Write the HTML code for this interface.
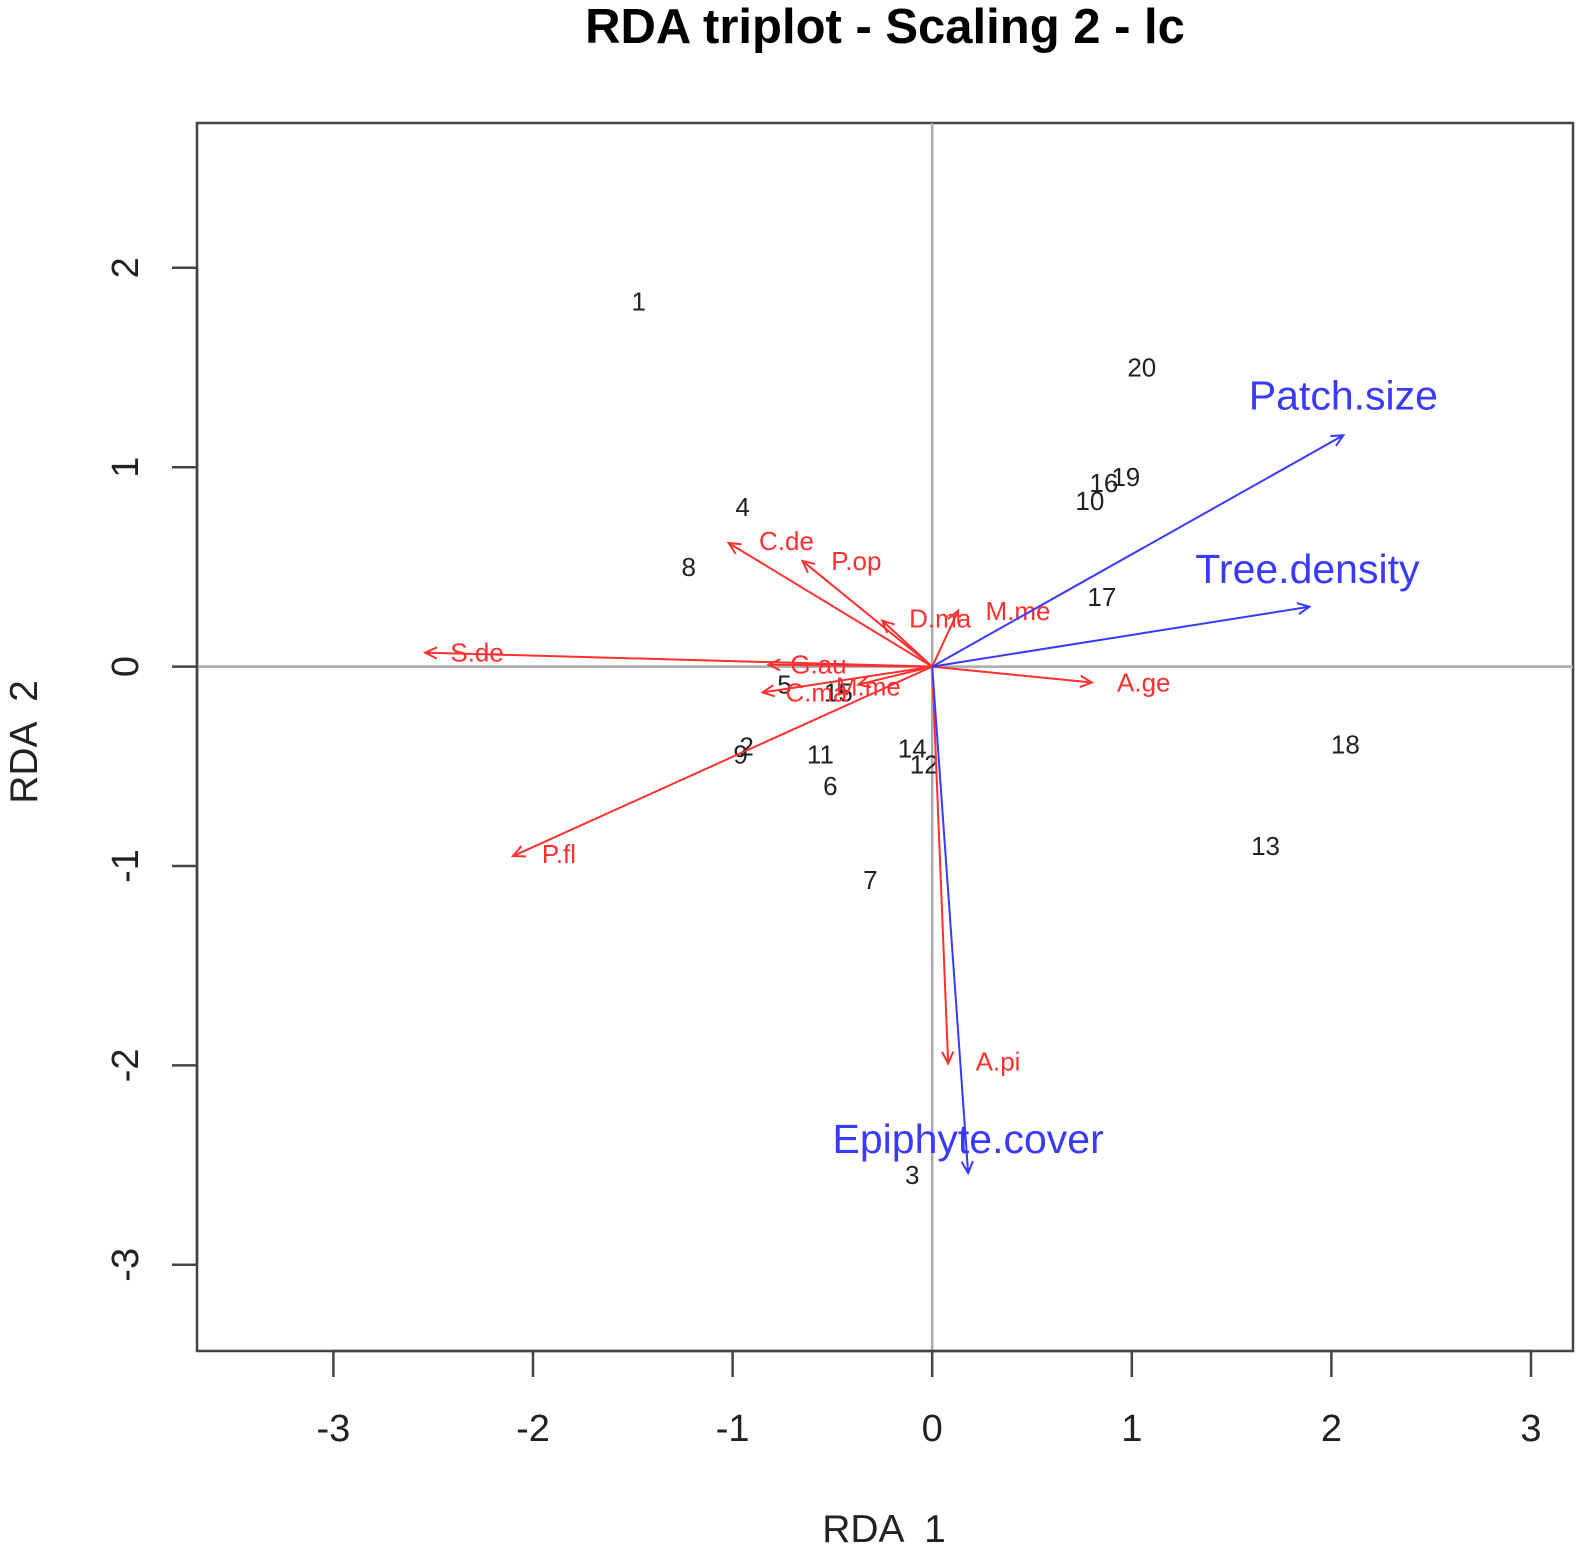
<!DOCTYPE html>
<html><head><meta charset="utf-8"><style>
html,body{margin:0;padding:0;background:#fff;}
svg{display:block;font-family:"Liberation Sans",Arial,sans-serif;}
</style></head><body>
<svg id="chart" width="1583" height="1549" viewBox="0 0 1583 1549" xmlns="http://www.w3.org/2000/svg">
<text x="885" y="43" text-anchor="middle" font-size="49" font-weight="bold" fill="#000">RDA triplot - Scaling 2 - lc</text>
<rect x="197" y="123" width="1376" height="1228" fill="none" stroke="#444" stroke-width="2.5"/>
<g id="zero"></g><g id="axes"></g><g id="sites"></g><g id="species"></g><g id="env"></g>
<text x="884" y="1542" text-anchor="middle" font-size="39" fill="#222" xml:space="preserve">RDA  1</text>
<text transform="translate(37,742) rotate(-90)" text-anchor="middle" font-size="39" fill="#222" xml:space="preserve">RDA  2</text>
</svg>
<script>
const xTicks=[-3,-2,-1,0,1,2,3];
const yTicks=[-3,-2,-1,0,1,2];
const siteLabels=["1","20","16","19","10","4","8","17","5","15","2","9","11","14","12","6","18","13","7","3"];
const siteX=[-1.47,1.05,0.86,0.97,0.79,-0.95,-1.22,0.85,-0.74,-0.47,-0.93,-0.96,-0.56,-0.10,-0.04,-0.51,2.07,1.67,-0.31,-0.10];
const siteY=[1.83,1.50,0.92,0.95,0.83,0.80,0.50,0.35,-0.09,-0.13,-0.40,-0.44,-0.44,-0.41,-0.49,-0.60,-0.39,-0.90,-1.07,-2.55];
const spNames=["S.de","G.au","C.ma","M.me","C.de","P.op","D.ma","M.me","A.ge","A.pi","P.fl"];
const spX=[-2.54,-0.82,-0.85,-0.37,-1.02,-0.65,-0.25,0.13,0.80,0.08,-2.10];
const spY=[0.07,0.01,-0.13,-0.09,0.62,0.53,0.23,0.28,-0.08,-1.99,-0.95];
const spLabX=[-2.28,-0.57,-0.58,-0.32,-0.73,-0.38,0.04,0.43,1.06,0.33,-1.87];
const spLabY=[0.07,0.01,-0.13,-0.10,0.63,0.53,0.24,0.28,-0.08,-1.98,-0.94];
const envNames=["Patch.size","Tree.density","Epiphyte.cover"];
const envX=[2.06,1.89,0.18];
const envY=[1.16,0.30,-2.54];
const envLabX=[2.06,1.88,0.18];
const envLabY=[1.36,0.49,-2.37];

const NS="http://www.w3.org/2000/svg";
const X0=932.2,XU=199.6,Y0=666.6,YU=199.4;
const sx=v=>X0+v*XU, sy=v=>Y0-v*YU;
function mk(tag,attrs,parent,txt){const e=document.createElementNS(NS,tag);for(const k in attrs)e.setAttribute(k,attrs[k]);if(txt!==undefined)e.textContent=txt;document.getElementById(parent).appendChild(e);return e;}

let z=mk('line',{x1:197,x2:1573,y1:sy(0),y2:sy(0),stroke:'#aaa','stroke-width':2.5},'zero');


z=mk('line',{x1:sx(0),x2:sx(0),y1:123,y2:1351,stroke:'#aaa','stroke-width':2.5},'zero');



let ax=mk('line',{x1:sx(-3),x2:sx(3),y1:1351,y2:1351,stroke:'#444','stroke-width':2.5},'axes');


xTicks.forEach(t=>{
  let l=mk('line',{x1:sx(t),x2:sx(t),y1:1351,y2:1377,stroke:'#444','stroke-width':2.5},'axes');
  
  
  let tx=mk('text',{x:sx(t),y:1441,'text-anchor':'middle','font-size':38,fill:'#222'},'axes',String(t));
  
  
});
ax=mk('line',{x1:197,x2:197,y1:sy(-3),y2:sy(2),stroke:'#444','stroke-width':2.5},'axes');


yTicks.forEach(t=>{
  let l=mk('line',{x1:172,x2:197,y1:sy(t),y2:sy(t),stroke:'#444','stroke-width':2.5},'axes');
  
  
  let tx=mk('text',{transform:`translate(138,${sy(t)}) rotate(-90)`,'text-anchor':'middle','font-size':38,fill:'#222'},'axes',String(t));
  
  
});

siteLabels.forEach((s,i)=>{
  let t=mk('text',{x:sx(siteX[i]),y:sy(siteY[i])+9,'text-anchor':'middle','font-size':26,fill:'#222'},'sites',s);
  
  
});

function arrow(x,y,col,parent,name){
  const x1=sx(0),y1=sy(0),x2=sx(x),y2=sy(y);
  const a=Math.atan2(y2-y1,x2-x1),h=13,w=0.45;
  const g=mk('g',{},parent);
  
  
  const d=`M${x1},${y1}L${x2},${y2}M${x2-h*Math.cos(a-w)},${y2-h*Math.sin(a-w)}L${x2},${y2}L${x2-h*Math.cos(a+w)},${y2-h*Math.sin(a+w)}`;
  const p=document.createElementNS(NS,'path');
  p.setAttribute('d',d);p.setAttribute('stroke',col);p.setAttribute('stroke-width',2);p.setAttribute('fill','none');
  g.appendChild(p);
}
spNames.forEach((n,i)=>{
  arrow(spX[i],spY[i],'#ff3030','species','species-arrow');
  let t=mk('text',{x:sx(spLabX[i]),y:sy(spLabY[i])+9,'text-anchor':'middle','font-size':26,fill:'#ff3030'},'species',n);
  
  
});
envNames.forEach((n,i)=>{
  arrow(envX[i],envY[i],'#3a3aff','env','env-arrow');
  let t=mk('text',{x:sx(envLabX[i]),y:sy(envLabY[i])+14,'text-anchor':'middle','font-size':41,fill:'#3a3aff'},'env',n);
  
  
});
</script>
</body></html>
